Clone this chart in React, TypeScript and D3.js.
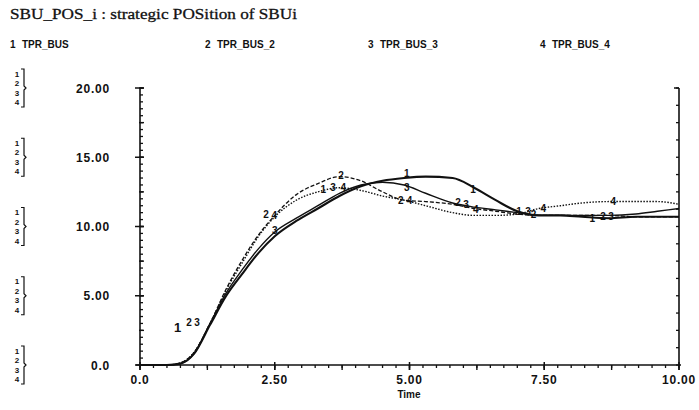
import React from "react";
import * as d3 from "d3";

// ---- data ----
const times = [0, 0.5, 0.75, 1.0, 1.3, 1.6, 1.9, 2.2, 2.5, 2.9, 3.3, 3.7, 4.1, 4.5, 4.9, 5.3, 5.8, 6.2, 6.6, 7.0, 7.4, 7.8, 8.2, 8.7, 9.2, 9.6, 10];
const tprBus = [0, 0, 0.1, 0.8, 2.9, 5.0, 6.6, 8.1, 9.3, 10.4, 11.3, 12.2, 12.9, 13.3, 13.5, 13.6, 13.5, 12.8, 11.9, 11.1, 10.8, 10.8, 10.7, 10.6, 10.7, 10.7, 10.7];
const tprBus2 = [0, 0, 0.15, 0.9, 3.0, 5.5, 7.6, 9.4, 10.8, 12.3, 13.1, 13.6, 13.3, 12.5, 11.9, 11.8, 11.6, 11.3, 11.1, 10.9, 10.8, 10.8, 10.8, 10.8, 10.7, 10.7, 10.7];
const tprBus3 = [0, 0, 0.1, 0.8, 3.0, 5.2, 6.9, 8.4, 9.6, 10.6, 11.5, 12.4, 13.0, 13.2, 13.0, 12.4, 11.7, 11.4, 11.2, 11.0, 10.8, 10.8, 10.8, 10.8, 10.9, 11.1, 11.3];
const tprBus4 = [0, 0, 0.15, 0.9, 3.0, 5.4, 7.4, 9.3, 10.7, 11.9, 12.5, 12.8, 12.6, 12.2, 11.9, 11.5, 11.0, 10.8, 10.8, 10.9, 11.3, 11.5, 11.7, 11.8, 11.8, 11.8, 11.6];

const seriesNames = ["TPR_BUS", "TPR_BUS_2", "TPR_BUS_3", "TPR_BUS_4"];

// curve number labels, [time, value]
const labels1 = [[0.7, 2.6], [3.4, 12.7], [4.95, 13.8], [6.18, 12.7], [7.03, 11.1], [8.39, 10.6]];
const labels2 = [[0.91, 3.1], [2.34, 10.9], [3.73, 13.7], [4.84, 11.9], [5.9, 11.7], [7.3, 10.85], [8.59, 10.75]];
const labels3 = [[1.06, 3.1], [2.5, 9.7], [3.58, 12.8], [4.95, 12.8], [6.05, 11.6], [7.2, 11.05], [8.74, 10.75]];
const labels4 = [[2.49, 10.8], [3.77, 12.8], [5.0, 11.9], [6.23, 11.2], [7.48, 11.3], [8.78, 11.8]];

const yTicks = [0, 5, 10, 15, 20];
const yTickLabels = ["0.0", "5.00", "10.00", "15.00", "20.00"];
const xTicks = [0, 2.5, 5, 7.5, 10];
const xTickLabels = ["0.0", "2.50", "5.00", "7.50", "10.00"];

const title = "SBU_POS_i : strategic POSition of SBUi";
const xTitle = "Time";

export default function App() {
  const W = 699, H = 410;
  const x = d3.scaleLinear().domain([0, 10]).range([140, 679]);
  const y = d3.scaleLinear().domain([0, 20]).range([365, 88]);
  const ink = "#111";
  const sans = "'Liberation Sans', Arial, sans-serif";

  const series = [tprBus, tprBus2, tprBus3, tprBus4];
  const labelSets = [labels1, labels2, labels3, labels4];
  const styles = [
    { w: 2.1, dash: "" },
    { w: 1.3, dash: "4,2" },
    { w: 1.4, dash: "" },
    { w: 1.4, dash: "1.5,1.5" },
  ];
  const legendX = [10, 205, 368, 540];

  const line = d3.line<number>()
    .x((_, i) => x(times[i]))
    .y((d) => y(d))
    .curve(d3.curveMonotoneX);

  const xMinor = d3.range(0, 10.0001, 0.25);
  const xMid = d3.range(0, 10.0001, 1.25);
  const yMinor = d3.range(0, 20.0001, 0.5);
  const yMid = d3.range(0, 20.0001, 2.5);
  const rightTicks = d3.range(0, 20.0001, 1.25);

  const stackOffsets = [-14.5, -5, 4.5, 14];

  return (
    <svg width={W} height={H} style={{ position: "fixed", left: 0, top: 0, background: "#fff" }}>
      <rect width={W} height={H} fill="#fff" />
      <text x={10} y={19} fontFamily="'Liberation Serif', 'Times New Roman', serif" fontSize={15} textLength={287} lengthAdjust="spacingAndGlyphs" fill={ink} stroke={ink} strokeWidth={0.3}>{title}</text>

      {seriesNames.map((n, i) => (
        <g key={n}>
          <text x={legendX[i]} y={48} fontFamily={sans} fontWeight="bold" fontSize={10} fill={ink}>{i + 1}</text>
          <text x={legendX[i] + 12} y={48} fontFamily={sans} fontWeight="bold" fontSize={10} fill={ink}>{n}</text>
        </g>
      ))}

      {/* left stacked series keys */}
      {yTicks.map((t) => {
        const cy = y(t);
        return (
          <g key={"st" + t}>
            {stackOffsets.map((o, k) => (
              <text key={k} x={17} y={cy + o + 3} textAnchor="middle" fontFamily={sans} fontWeight="bold" fontSize={8} fill={ink}>{k + 1}</text>
            ))}
            <path d={`M21,${cy - 19} L24,${cy - 19} L24,${cy - 2} L26,${cy} L24,${cy + 2} L24,${cy + 19} L21,${cy + 19}`} fill="none" stroke={ink} strokeWidth={1.2} />
          </g>
        );
      })}

      {/* y tick labels */}
      {yTicks.map((t, i) => (
        <text key={"yl" + t} x={110} y={y(t) + 4.5} textAnchor="end" fontFamily={sans} fontWeight="bold" fontSize={12} letterSpacing={0.8} fill={ink}>{yTickLabels[i]}</text>
      ))}

      {/* axes */}
      <line x1={x(0)} x2={x(0)} y1={y(20)} y2={y(0)} stroke={ink} strokeWidth={1.6} />
      <line x1={x(10)} x2={x(10)} y1={y(20)} y2={y(0)} stroke={ink} strokeWidth={1.6} />
      <line x1={x(0) - 4} x2={x(10) + 2} y1={y(0)} y2={y(0)} stroke={ink} strokeWidth={1.6} />
      {yMinor.map((t) => (
        <line key={"ym" + t} x1={x(0)} x2={x(0) + 3} y1={y(t)} y2={y(t)} stroke={ink} strokeWidth={1.3} />
      ))}
      {yMid.map((t) => (
        <line key={"yM" + t} x1={x(0) - 1} x2={x(0) + 4} y1={y(t)} y2={y(t)} stroke={ink} strokeWidth={1.4} />
      ))}
      {yTicks.map((t) => (
        <line key={"yT" + t} x1={x(0) - 5} x2={x(0) + 4} y1={y(t)} y2={y(t)} stroke={ink} strokeWidth={1.5} />
      ))}
      {rightTicks.map((t) => (
        <line key={"yr" + t} x1={x(10) - 3} x2={x(10)} y1={y(t)} y2={y(t)} stroke={ink} strokeWidth={1.3} />
      ))}
      <line x1={x(10) - 5} x2={x(10)} y1={y(20)} y2={y(20)} stroke={ink} strokeWidth={1.5} />
      {xMinor.map((t) => (
        <line key={"xm" + t} x1={x(t)} x2={x(t)} y1={y(0)} y2={y(0) + 3} stroke={ink} strokeWidth={1.3} />
      ))}
      {xMid.map((t) => (
        <line key={"xM" + t} x1={x(t)} x2={x(t)} y1={y(0)} y2={y(0) + 5} stroke={ink} strokeWidth={1.4} />
      ))}
      {xTicks.map((t) => (
        <line key={"xT" + t} x1={x(t)} x2={x(t)} y1={y(0) - 3} y2={y(0) + 5} stroke={ink} strokeWidth={1.5} />
      ))}
      {xTicks.map((t, i) => (
        <text key={"xl" + t} x={x(t)} y={384} textAnchor="middle" fontFamily={sans} fontWeight="bold" fontSize={12} letterSpacing={0.8} fill={ink}>{xTickLabels[i]}</text>
      ))}
      <text x={409} y={398} textAnchor="middle" fontFamily={sans} fontWeight="bold" fontSize={10} fill={ink}>{xTitle}</text>

      {/* curves */}
      {series.map((s, i) => (
        <path key={"c" + i} d={line(s) || ""} fill="none" stroke={ink} strokeWidth={styles[i].w} strokeDasharray={styles[i].dash} strokeLinejoin="round" />
      ))}

      {/* curve labels */}
      {labelSets.map((set, i) =>
        set.map((p, k) => (
          <text key={"lb" + i + "-" + k} x={x(p[0])} y={y(p[1]) + 3.5} textAnchor="middle" fontFamily={sans} fontWeight="bold" fontSize={k === 0 && i === 0 ? 13 : 10} fill={ink}>{i + 1}</text>
        ))
      )}
    </svg>
  );
}
